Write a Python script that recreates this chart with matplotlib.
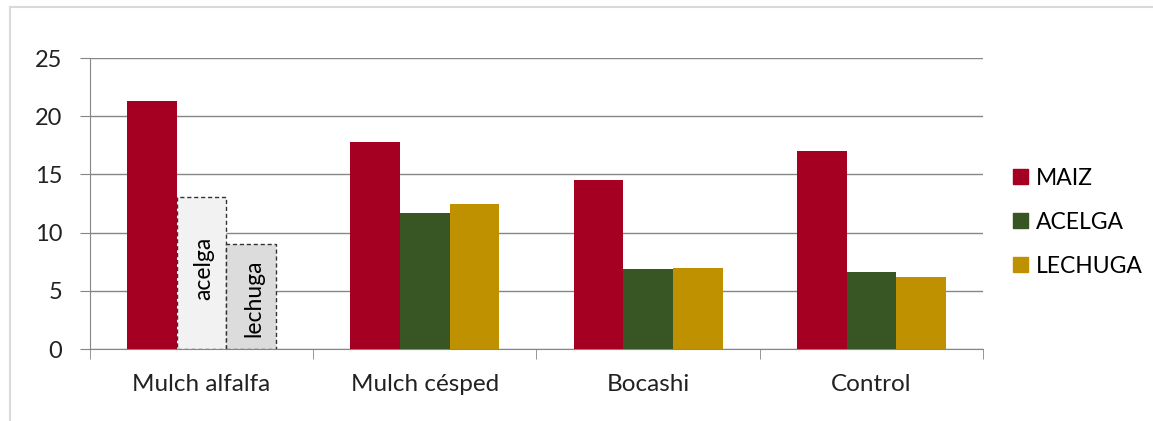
import matplotlib.pyplot as plt
import matplotlib.patches as mpatches
from matplotlib.lines import Line2D
import numpy as np

plt.rcParams['font.family'] = ['Lato', 'DejaVu Sans']

categorias = ['Mulch alfalfa', 'Mulch césped', 'Bocashi', 'Control']
maiz    = [21.3, 17.8, 14.5, 17.0]
acelga  = [np.nan, 11.7, 6.9, 6.6]
lechuga = [np.nan, 12.5, 6.95, 6.2]
# barras vacias (sin dato) en Mulch alfalfa
hueco_acelga  = 13.1
hueco_lechuga = 9.0

c_maiz = '#a50021'
c_acelga = '#375623'
c_lechuga = '#bf9000'
gris = '#868686'

fig = plt.figure(figsize=(11.53, 4.21), dpi=100)
ax = fig.add_axes([0.078, 0.171, 0.7746, 0.691])

x = np.arange(len(categorias))
w = 1/4.5
ax.bar(x - w, maiz, w, color=c_maiz, zorder=3)
ax.bar(x, acelga, w, color=c_acelga, zorder=3)
ax.bar(x + w, lechuga, w, color=c_lechuga, zorder=3)

ax.bar(x[0], hueco_acelga, w, color='#f2f2f2', edgecolor='#333333',
       linestyle=(0, (3, 2)), linewidth=1, zorder=3)
ax.bar(x[0] + w, hueco_lechuga, w, color='#dcdcdc', edgecolor='#333333',
       linestyle=(0, (3, 2)), linewidth=1, zorder=3)
ax.text(x[0] + 0.01, 6.9, 'acelga', rotation=90, ha='center', va='center', fontsize=16.5, zorder=4)
ax.text(x[0] + w + 0.01, 4.4, 'lechuga', rotation=90, ha='center', va='center', fontsize=16.5, zorder=4)

ax.set_xlim(-0.5, len(categorias) - 0.5)
ax.set_ylim(0, 25)
ax.set_yticks([0, 5, 10, 15, 20, 25])
ax.yaxis.grid(True, color=gris, linewidth=1, zorder=0)
ax.set_xticks(x)
ax.set_xticklabels(categorias, fontsize=17.5, color='#222222')
ax.tick_params(axis='x', length=0, pad=18)
ax.set_xticks(np.arange(len(categorias) + 1) - 0.5, minor=True)
ax.tick_params(axis='x', which='minor', length=7, color=gris, direction='out')
ax.tick_params(axis='y', length=7, color=gris, labelsize=17, labelcolor='#222222', pad=13)

for s in ['top', 'right']:
    ax.spines[s].set_visible(False)
ax.spines['left'].set_color(gris)
ax.spines['bottom'].set_color(gris)

handles = [mpatches.Patch(color=c) for c in [c_maiz, c_acelga, c_lechuga]]
ax.legend(handles, ['MAIZ', 'ACELGA', 'LECHUGA'], loc='center left',
          bbox_to_anchor=(1.0, 0.436), frameon=False, fontsize=16.5,
          borderaxespad=0.9, handlelength=0.65, handleheight=0.65,
          handletextpad=0.35, labelspacing=1.0)

# marco del grafico
fig.add_artist(Line2D([0.0087, 0.0087], [0, 0.983], color='#d9d9d9', linewidth=1.5))
fig.add_artist(Line2D([0.0087, 1], [0.983, 0.983], color='#d9d9d9', linewidth=1.5))

fig.savefig('out.png', dpi=100)
